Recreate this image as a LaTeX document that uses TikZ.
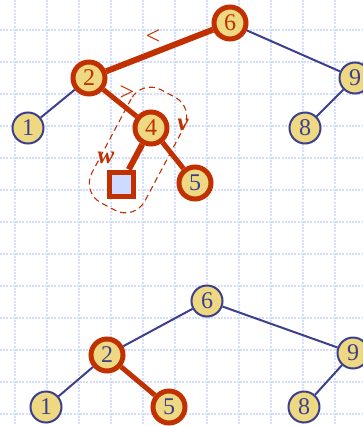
\documentclass[tikz,border=0pt]{standalone}
\usepackage{fontspec}
\setmainfont{Liberation Serif}
\definecolor{keyblue}{RGB}{60,64,140}
\definecolor{hotred}{RGB}{192,48,0}
\definecolor{keyfill}{RGB}{238,216,130}
\definecolor{extfill}{RGB}{206,218,255}
\definecolor{gridblue}{RGB}{212,222,255}
\tikzset{
    key/.style={circle, draw=keyblue, line width=2pt, fill=keyfill, minimum size=31pt, inner sep=0pt,
        text=keyblue, font=\fontsize{24}{26}\selectfont},
    hotkey/.style={key, draw=hotred, line width=5pt, minimum size=32pt},
    hottext/.style={text=hotred},
    extnode/.style={rectangle, draw=hotred, line width=5pt, fill=extfill, minimum size=24pt, inner sep=0pt},
    link/.style={draw=keyblue, line width=2pt},
    hotlink/.style={draw=hotred, line width=5pt},
    gridline/.style={gridblue, line width=1.3pt, dash pattern=on 2pt off 1.2pt},
    marktext/.style={text=hotred, font=\fontsize{24}{26}\selectfont}
}
\begin{document}
\begin{tikzpicture}[x=1pt, y=-1pt]
    \useasboundingbox (0,0) rectangle (363,426);
    \clip (0,0) rectangle (363,426);

    % 背景网格
    \foreach \x in {15,47,...,335} \draw[gridline] (\x,0) -- (\x,426);
    \foreach \y in {30,62,...,414} \draw[gridline] (0,\y) -- (363,\y);

    % 上面的树：删除前
    \node[hotkey, hottext] (t6) at (230,23) {6};
    \node[hotkey, hottext] (t2) at (89,78) {2};
    \node[key] (t9) at (355,78) {9};
    \node[key] (t1) at (28,128) {1};
    \node[hotkey, hottext] (t4) at (151,128) {4};
    \node[key] (t8) at (305,128) {8};
    \node[extnode] (tw) at (121,184) {};
    \node[hotkey] (t5) at (195,183) {5};

    \draw[hotlink, line width=6pt] (t6) -- (t2);
    \draw[link] (t6) -- (t9);
    \draw[link] (t2) -- (t1);
    \draw[hotlink] (t2) -- (t4);
    \draw[link] (t9) -- (t8);
    \draw[hotlink, line width=6pt] (t4) -- (tw);
    \draw[hotlink] (t4) -- (t5);

    % 要删除的一对 v, w
    \node[draw=hotred, line width=1.1pt, dash pattern=on 6pt off 4pt, rounded corners=22pt, rotate=62,
        minimum width=128pt, minimum height=60pt] (pair) at (138,150) {};
    \node[marktext, font=\fontsize{26}{28}\selectfont] (lt) at (153,37) {<};
    \node[marktext, font=\fontsize{26}{28}\selectfont] (gt) at (127,93) {>};
    \node[marktext, font=\fontsize{25}{27}\selectfont\bfseries\itshape] (vlab) at (183,125) {v};
    \node[marktext, font=\fontsize{25}{27}\selectfont\bfseries\itshape] (wlab) at (106,158) {w};

    % 下面的树：删除后
    \node[key] (b6) at (207,301) {6};
    \node[hotkey] (b2) at (107,355) {2};
    \node[key] (b9) at (353,353) {9};
    \node[key] (b1) at (46,407) {1};
    \node[hotkey] (b5) at (169,407) {5};
    \node[key] (b8) at (304,407) {8};

    \draw[link] (b6) -- (b2);
    \draw[link] (b6) -- (b9);
    \draw[link] (b2) -- (b1);
    \draw[hotlink] (b2) -- (b5);
    \draw[link] (b9) -- (b8);
\end{tikzpicture}
\end{document}
